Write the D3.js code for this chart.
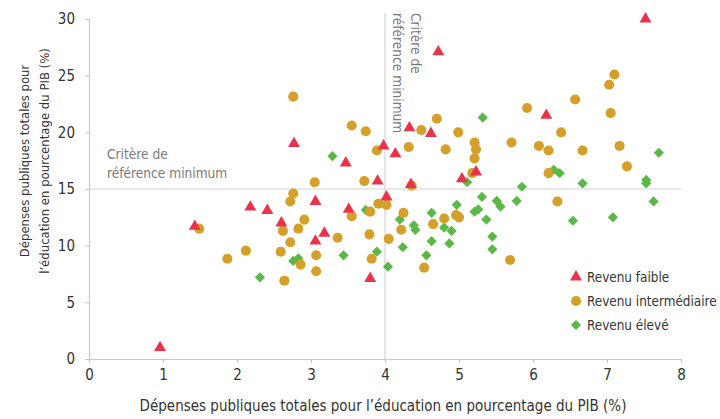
<!DOCTYPE html>
<html>
<head>
<meta charset="utf-8">
<script src="https://cdn.jsdelivr.net/npm/d3@7"></script>
<style>
  body { margin: 0; background: #fff; }
  svg text { font-family: "Liberation Sans Narrow", "DejaVu Sans Condensed", sans-serif; }
</style>
</head>
<body>
<svg id="chart"></svg>
<script>
var width = 720;
var height = 419;
var margin = {left: 89, right: 39, top: 19, bottom: 60};

var xTicks = [0, 1, 2, 3, 4, 5, 6, 7, 8];
var yTicks = [0, 5, 10, 15, 20, 25, 30];
var refX = 4;
var refY = 15;

var seriesNames = ["Revenu faible", "Revenu intermédiaire", "Revenu élevé"];
var seriesColors = ["#e8334a", "#d4a02a", "#5ab946"];

// Revenu faible
var lowX = [7.52, 4.72, 0.96, 1.43, 2.77, 3.47, 3.90, 3.98, 4.33, 4.62, 4.14, 5.23, 5.04, 4.35, 6.18, 2.18, 2.41, 2.60, 3.06, 3.51, 3.18, 3.06, 3.80, 4.02];
var lowY = [30.0, 27.1, 1.0, 11.7, 19.0, 17.3, 15.7, 18.8, 20.4, 19.9, 18.1, 16.5, 15.9, 15.4, 21.5, 13.4, 13.1, 12.0, 13.9, 13.2, 11.1, 10.4, 7.1, 14.3];

// Revenu intermédiaire
var midX = [1.49, 1.87, 2.76, 3.55, 3.74, 3.89, 3.05, 3.72, 4.49, 4.70, 4.32, 4.82, 4.99, 5.21, 5.23, 5.21, 5.18, 5.71, 5.92, 6.08,
            4.36, 7.10, 7.03, 6.57, 7.05, 6.38, 6.21, 6.67, 7.17, 7.27, 6.21, 2.76, 2.72, 3.55, 3.80, 3.91, 4.02, 2.91, 2.62, 2.83,
            2.72, 2.12, 2.59, 2.86, 3.07, 3.07, 2.64, 3.36, 3.79, 4.05, 3.82, 4.25, 4.22, 4.65, 4.80, 4.96, 5.00, 4.53, 5.69, 6.33];
var midY = [11.5, 8.85, 23.15, 20.6, 20.1, 18.4, 15.6, 15.7, 20.2, 21.2, 18.7, 18.5, 20.0, 19.1, 18.5, 17.7, 16.4, 19.1, 22.15, 18.8,
            15.3, 25.1, 24.2, 22.9, 21.7, 20.0, 18.4, 18.4, 18.8, 17.0, 16.4, 14.6, 13.9, 12.6, 13.0, 13.7, 13.6, 12.3, 11.3, 11.5,
            10.3, 9.56, 9.47, 8.33, 9.15, 7.74, 6.91, 10.7, 11.0, 10.6, 8.85, 12.9, 11.4, 11.9, 12.4, 12.7, 12.5, 8.06, 8.74, 13.9];

// Revenu élevé
var highX = [3.29, 5.32, 5.11, 5.85, 7.70, 6.28, 6.36, 6.67, 7.53, 7.53, 3.74, 3.44, 3.89, 4.04, 2.76, 2.83, 2.31, 4.20, 4.39, 4.41,
             4.63, 4.97, 4.80, 4.90, 4.63, 4.87, 4.24, 4.56, 5.21, 5.26, 5.31, 5.37, 5.51, 5.56, 5.78, 5.45, 5.45, 6.54, 7.08, 7.63];
var highY = [17.9, 21.3, 15.6, 15.2, 18.2, 16.7, 16.4, 15.5, 15.8, 15.5, 13.15, 9.15, 9.47, 8.15, 8.65, 8.89, 7.21, 12.3, 11.8, 11.4,
             12.9, 13.6, 11.6, 11.3, 10.4, 10.2, 9.86, 9.15, 13.0, 13.2, 14.3, 12.3, 13.95, 13.45, 13.95, 10.8, 9.68, 12.2, 12.5, 13.9];

var svg = d3.select("#chart").attr("width", width).attr("height", height);

var x = d3.scaleLinear().domain([0, 8]).range([margin.left, width - margin.right]);
var y = d3.scaleLinear().domain([0, 30]).range([height - margin.bottom, margin.top]);

var axisColor = "#c8c8c8";
var textColor = "#333";

// reference lines
svg.append("line")
    .attr("x1", x(0)).attr("x2", x(8))
    .attr("y1", y(refY)).attr("y2", y(refY))
    .attr("stroke", "#d4d4d4").attr("stroke-width", 1.2);
svg.append("line")
    .attr("x1", x(refX)).attr("x2", x(refX))
    .attr("y1", y(0)).attr("y2", 13)
    .attr("stroke", "#d4d4d4").attr("stroke-width", 1.2);

// axes
var yAxis = svg.append("g")
    .attr("transform", "translate(" + x(0) + ",0)")
    .call(d3.axisLeft(y).tickValues(yTicks).tickSize(4).tickPadding(10));
var xAxis = svg.append("g")
    .attr("transform", "translate(0," + y(0) + ")")
    .call(d3.axisBottom(x).tickValues(xTicks).tickSize(4).tickPadding(6));
[xAxis, yAxis].forEach(function (g) {
    g.select(".domain").attr("stroke", axisColor).attr("stroke-width", 1.2);
    g.selectAll(".tick line").attr("stroke", axisColor);
    g.selectAll(".tick text").attr("fill", textColor).style("font-size", "15px");
});

// axis titles
svg.append("text")
    .attr("x", (x(0) + x(8)) / 2 - 2)
    .attr("y", 411)
    .attr("text-anchor", "middle")
    .attr("fill", textColor)
    .style("font-size", "15px")
    .text("Dépenses publiques totales pour l’éducation en pourcentage du PIB (%)");

var yTitle = svg.append("text")
    .attr("transform", "translate(0,161) rotate(-90)")
    .attr("text-anchor", "middle")
    .attr("fill", textColor)
    .style("font-size", "13px");
yTitle.append("tspan").attr("x", 0).attr("y", 29).text("Dépenses publiques totales pour");
yTitle.append("tspan").attr("x", 0).attr("y", 49).text("l’éducation en pourcentage du PIB (%)");

// annotations
var noteColor = "#7a7a7a";
var note1 = svg.append("text").attr("fill", noteColor).style("font-size", "13.6px");
note1.append("tspan").attr("x", 107).attr("y", 159).text("Critère de");
note1.append("tspan").attr("x", 107).attr("y", 178).text("référence minimum");

var note2 = svg.append("text")
    .attr("transform", "translate(" + x(refX) + ",13) rotate(90)")
    .attr("fill", noteColor).style("font-size", "13.6px");
note2.append("tspan").attr("x", 0).attr("y", -26).text("Critère de");
note2.append("tspan").attr("x", 0).attr("y", -8).text("référence minimum");

// points
var symbols = [
    d3.symbol().type(d3.symbolTriangle).size(62),
    d3.symbol().type(d3.symbolCircle).size(80),
    d3.symbol().type(d3.symbolSquare).size(52)
];
var rotations = [0, 0, 45];

function pairs(xs, ys) {
    return xs.map(function (v, i) { return {x: v, y: ys[i]}; });
}
var allSeries = [pairs(lowX, lowY), pairs(midX, midY), pairs(highX, highY)];

// draw high first so low-income triangles stay on top, as in the picture
[2, 1, 0].forEach(function (s) {
    svg.append("g").selectAll("path")
        .data(allSeries[s])
        .enter()
        .append("path")
        .attr("d", symbols[s])
        .attr("transform", function (d) {
            return "translate(" + x(d.x) + "," + y(d.y) + ") rotate(" + rotations[s] + ")";
        })
        .attr("fill", seriesColors[s]);
});

// legend
var legend = svg.append("g").attr("transform", "translate(576,277)");
seriesNames.forEach(function (name, i) {
    var row = legend.append("g").attr("transform", "translate(0," + (i * 24) + ")");
    row.append("path")
        .attr("d", symbols[i])
        .attr("transform", "rotate(" + rotations[i] + ")")
        .attr("fill", seriesColors[i]);
    row.append("text")
        .attr("x", 11).attr("y", 5)
        .attr("fill", textColor)
        .style("font-size", "13.4px")
        .text(name);
});
</script>
</body>
</html>
